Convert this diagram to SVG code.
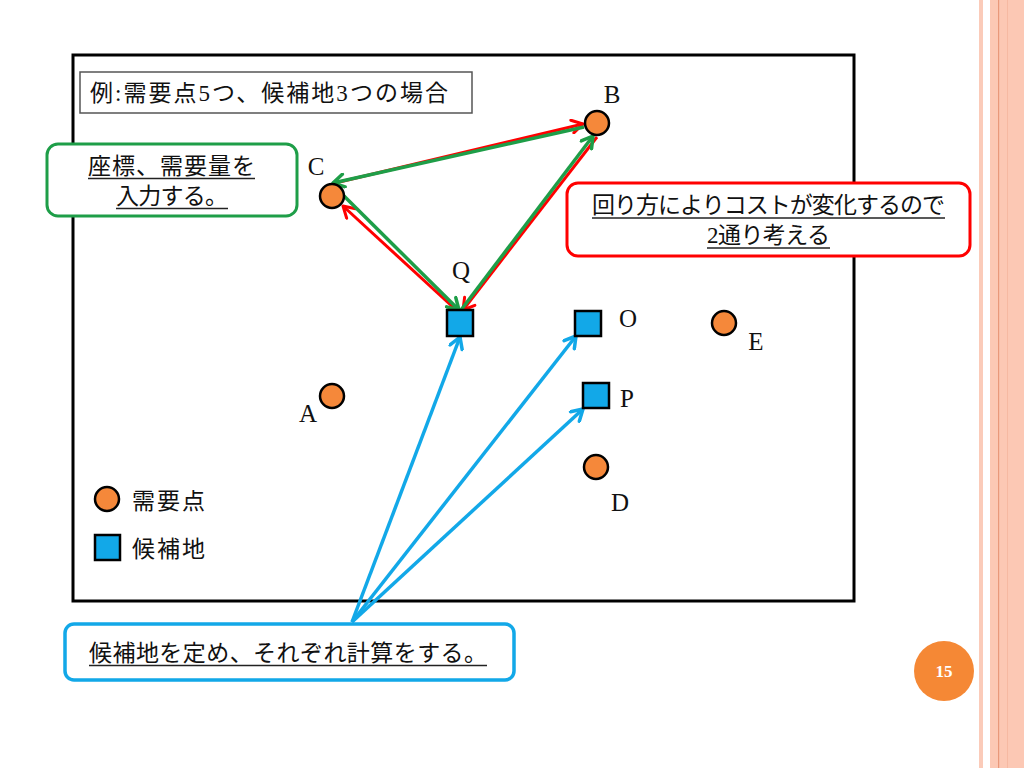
<svg xmlns="http://www.w3.org/2000/svg" width="1024" height="768" viewBox="0 0 1024 768">
<style>
.t{font-family:"Liberation Serif","Noto Sans CJK JP",serif;font-size:23px;fill:#111}
.lbl{font-family:"Liberation Serif",serif;font-size:25px;fill:#111;text-anchor:middle}
.ul{stroke:#222;stroke-width:1.3}
.dem{fill:#F5883A;stroke:#000;stroke-width:2.5}
.cand{fill:#12A8E8;stroke:#000;stroke-width:2.5}
.red{stroke:#FF0000;stroke-width:3;fill:none}
.grn{stroke:#1E9E48;stroke-width:3.5;fill:none}
.blu{stroke:#12A8E8;stroke-width:3.5;fill:none}
</style>
<defs>
<marker id="ah-r" viewBox="0 0 16 16" refX="14" refY="8" markerWidth="16" markerHeight="16" markerUnits="userSpaceOnUse" orient="auto"><path d="M3,1.5 L14,8 L3,14.5" fill="none" stroke="#FF0000" stroke-width="3" stroke-linecap="round" stroke-linejoin="round"/></marker>
<marker id="ah-g" viewBox="0 0 16 16" refX="14" refY="8" markerWidth="16" markerHeight="16" markerUnits="userSpaceOnUse" orient="auto"><path d="M3,1.5 L14,8 L3,14.5" fill="none" stroke="#1E9E48" stroke-width="3.5" stroke-linecap="round" stroke-linejoin="round"/></marker>
<marker id="ah-b" viewBox="0 0 16 16" refX="14" refY="8" markerWidth="16" markerHeight="16" markerUnits="userSpaceOnUse" orient="auto"><path d="M3,1.5 L14,8 L3,14.5" fill="none" stroke="#12A8E8" stroke-width="3.5" stroke-linecap="round" stroke-linejoin="round"/></marker>
</defs>
<rect width="1024" height="768" fill="#fff"/>
<g id="page-border">
<rect x="979" y="0" width="4" height="768" fill="#FBCBB9"/>
<rect x="990" y="0" width="34" height="768" fill="#FCC8B4"/>
<rect x="998" y="0" width="1.2" height="768" fill="#E9987A"/>
<rect x="1007" y="0" width="1" height="768" fill="#F6B9A2"/>
</g>
<g id="frame"><rect x="73" y="55" width="781" height="546" fill="none" stroke="#000" stroke-width="3"/></g>
<g id="title-box">
<rect x="80" y="72" width="392" height="41" fill="#fff" stroke="#555" stroke-width="1.5"/>
<text class="t" x="90" y="101" textLength="358" lengthAdjust="spacing">例:需要点5つ、候補地3つの場合</text>
</g>
<g id="note-input">
<rect x="47" y="144" width="250" height="72" rx="11" fill="#fff" stroke="#1E9E48" stroke-width="3"/>
<text class="t" x="88" y="174" textLength="167" lengthAdjust="spacing">座標、需要量を</text>
<line class="ul" x1="88" y1="178.5" x2="255" y2="178.5"/>
<text class="t" x="116" y="204" textLength="112" lengthAdjust="spacing">入力する。</text>
<line class="ul" x1="116" y1="208.5" x2="228" y2="208.5"/>
</g>
<g id="note-route">
<rect x="567" y="183" width="403" height="73" rx="11" fill="#fff" stroke="#FF0000" stroke-width="3"/>
<text class="t" x="592" y="213" textLength="353" lengthAdjust="spacing">回り方によりコストが変化するので</text>
<line class="ul" x1="592" y1="218" x2="945" y2="218"/>
<text class="t" x="707" y="243" textLength="123" lengthAdjust="spacing">2通り考える</text>
<line class="ul" x1="707" y1="248" x2="830" y2="248"/>
</g>
<g id="note-calc">
<rect x="65" y="624" width="449" height="56" rx="9" fill="#fff" stroke="#12A8E8" stroke-width="3.5"/>
<text class="t" x="89" y="661" textLength="398" lengthAdjust="spacing">候補地を定め、それぞれ計算をする。</text>
<line class="ul" x1="89" y1="665.5" x2="487" y2="665.5"/>
</g>
<g id="connectors">
<line class="red" x1="335" y1="183" x2="583" y2="124" marker-end="url(#ah-r)"/>
<line class="red" x1="455" y1="309" x2="343" y2="206" marker-end="url(#ah-r)"/>
<line class="red" x1="597" y1="137" x2="463" y2="310" marker-end="url(#ah-r)"/>
<line class="grn" x1="584" y1="127" x2="333" y2="183" marker-end="url(#ah-g)"/>
<line class="grn" x1="343" y1="195" x2="459" y2="310" marker-end="url(#ah-g)"/>
<line class="grn" x1="461" y1="310" x2="593" y2="136" marker-end="url(#ah-g)"/>
<line class="blu" x1="352" y1="622" x2="460" y2="337" marker-end="url(#ah-b)"/>
<line class="blu" x1="352" y1="622" x2="576" y2="336" marker-end="url(#ah-b)"/>
<line class="blu" x1="352" y1="622" x2="583" y2="409" marker-end="url(#ah-b)"/>
</g>
<g id="node-A"><circle class="dem" cx="332" cy="396" r="12"/><text class="lbl" x="308" y="422">A</text></g>
<g id="node-B"><circle class="dem" cx="597" cy="123" r="12"/><text class="lbl" x="612" y="103">B</text></g>
<g id="node-C"><circle class="dem" cx="332" cy="196" r="12"/><text class="lbl" x="316" y="175">C</text></g>
<g id="node-D"><circle class="dem" cx="596" cy="467" r="12"/><text class="lbl" x="620" y="511">D</text></g>
<g id="node-E"><circle class="dem" cx="724" cy="323" r="12"/><text class="lbl" x="756" y="350">E</text></g>
<g id="node-Q"><rect class="cand" x="447" y="310" width="26" height="26"/><text class="lbl" x="461" y="279">Q</text></g>
<g id="node-O"><rect class="cand" x="575" y="311" width="26" height="25"/><text class="lbl" x="628" y="327">O</text></g>
<g id="node-P"><rect class="cand" x="583" y="383" width="26" height="25"/><text class="lbl" x="627" y="407">P</text></g>
<g id="legend">
<circle class="dem" cx="107" cy="499" r="12"/>
<text class="t" x="132" y="509" textLength="73" lengthAdjust="spacing">需要点</text>
<rect class="cand" x="95" y="535" width="25" height="25"/>
<text class="t" x="132" y="557" textLength="73" lengthAdjust="spacing">候補地</text>
</g>
<g id="page-number">
<circle cx="944" cy="671" r="30" fill="#F58835"/>
<text x="944" y="677" font-family="Liberation Serif,serif" font-size="17" font-weight="bold" fill="#fff" text-anchor="middle">15</text>
</g>
</svg>
